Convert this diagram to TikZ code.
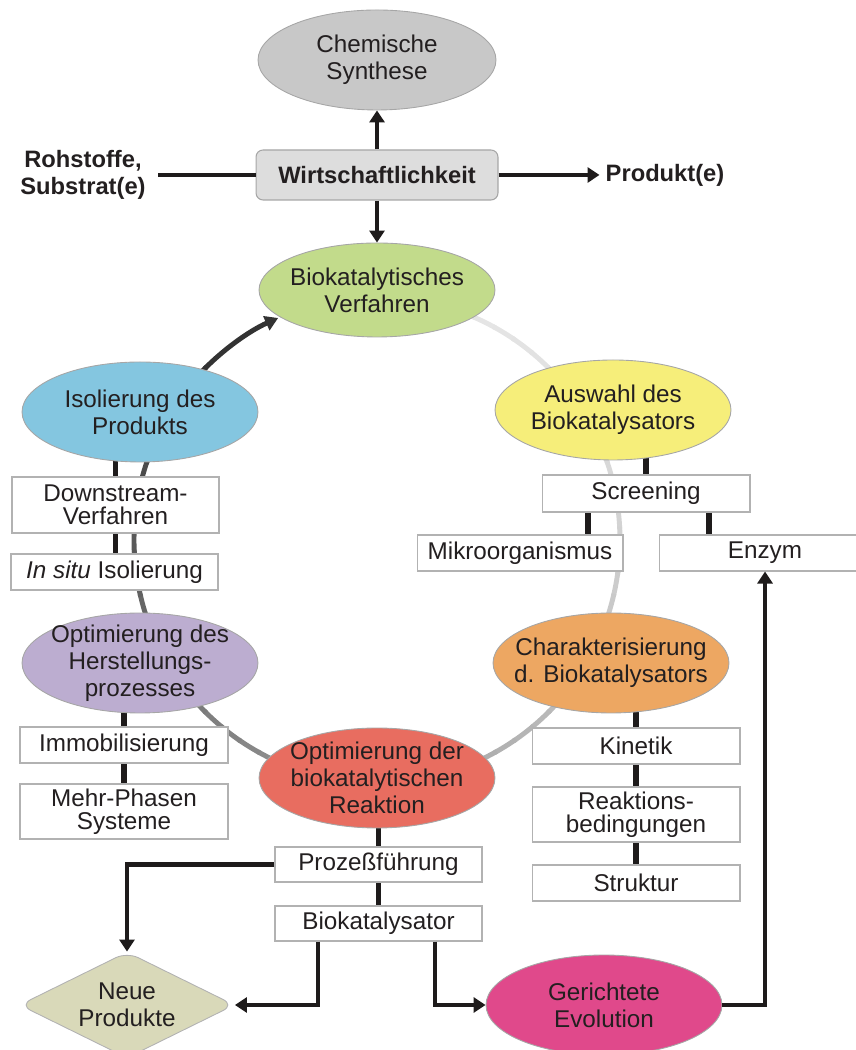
\documentclass[tikz,border=0pt]{standalone}
\usepackage{fontspec}
\setmainfont{Liberation Sans}
\usetikzlibrary{shapes.geometric, arrows.meta, backgrounds}

\definecolor{chemGray}{HTML}{C8C8C8}
\definecolor{wirtGray}{HTML}{DDDDDD}
\definecolor{bioGreen}{HTML}{C2DB8B}
\definecolor{isoBlue}{HTML}{84C6E0}
\definecolor{ausYellow}{HTML}{F6EE7A}
\definecolor{charOrange}{HTML}{EDA762}
\definecolor{optPurple}{HTML}{BCADD0}
\definecolor{reakRed}{HTML}{E86D60}
\definecolor{evoPink}{HTML}{E0498B}
\definecolor{neuOlive}{HTML}{D9D9B9}
\definecolor{inkBlack}{HTML}{1E1B1B}
\definecolor{txtDark}{HTML}{231F20}

\begin{document}
\begin{tikzpicture}[x=0.02cm, y=0.02cm,
    font=\fontsize{13.8}{15.3}\selectfont, text=txtDark,
    bubble/.style={ellipse, draw=black!35, line width=0.5pt, minimum width=4.72cm,
        minimum height=2cm, align=center, inner xsep=-9pt, inner ysep=-5pt},
    box/.style={draw=black!30, fill=white, line width=0.6pt, minimum width=4.14cm,
        minimum height=0.72cm, align=center, inner sep=0pt,
        font=\fontsize{13.8}{13}\selectfont},
    boldtxt/.style={font=\fontsize{13.5}{15.3}\selectfont\bfseries, align=center},
    stub/.style={draw=inkBlack, line width=3.2pt},
    arr/.style={draw=inkBlack, line width=2.8pt, -{Triangle[length=0.24cm, width=0.3cm]}},
    ring/.style={line width=2.8pt}
  ]
    \useasboundingbox (0,0) rectangle (855,1050);

    % Economics
    \node[bubble, fill=chemGray, minimum width=4.76cm] (chem) at (377,990) {Chemische\\Synthese};
    \node[boldtxt, draw=black!35, fill=wirtGray, rounded corners=4pt, line width=0.6pt,
        minimum width=4.84cm, minimum height=1cm] (wirt) at (377,875) {Wirtschaftlichkeit};
    \node[boldtxt, inner xsep=7pt] (roh) at (83,875) {Rohstoffe,\\Substrat(e)};
    \node[boldtxt] (prod) at (665,875) {Produkt(e)};

    % Cycle
    \node[bubble, fill=bioGreen, minimum height=1.88cm] (bio) at (377,760) {Biokatalytisches\\Verfahren};
    \node[bubble, fill=ausYellow] (aus) at (613,640) {Auswahl des\\Biokatalysators};
    \node[bubble, fill=charOrange] (char) at (611,387) {Charakterisierung\\d. Biokatalysators};
    \node[bubble, fill=reakRed] (reak) at (377,272) {Optimierung der\\biokatalytischen\\Reaktion};
    \node[bubble, fill=optPurple] (opt) at (140,387) {Optimierung des\\Herstellungs-\\prozesses};
    \node[bubble, fill=isoBlue] (iso) at (140,638) {Isolierung des\\Produkts};

    % Selection
    \node[box, minimum width=4.16cm, minimum height=0.74cm] (scr) at (646,556.5) {Screening};
    \node[box, minimum width=4.12cm] (mikro) at (520,497) {Mikroorganismus};
    \node[box, minimum width=4.24cm] (enz) at (765,497) {Enzym};

    % Characterisation
    \node[box, minimum width=4.16cm] (kin) at (636,304) {Kinetik};
    \node[box, minimum width=4.16cm, minimum height=1.1cm] (rbed) at (636,235.5) {Reaktions-\\bedingungen};
    \node[box, minimum width=4.16cm] (str) at (636,167) {Struktur};

    % Reaction
    \node[box, minimum height=0.7cm] (proz) at (378.5,185.5) {Prozeßführung};
    \node[box, minimum height=0.7cm] (bkat) at (378.5,126.5) {Biokatalysator};
    \node[diamond, aspect=2, draw=black!30, fill=neuOlive, rounded corners=7pt, line width=0.5pt,
        minimum width=4.3cm, minimum height=2.12cm, inner sep=0pt, align=center] (neu) at (127,45) {Neue\\Produkte};
    \node[bubble, fill=evoPink] (gev) at (604,45) {Gerichtete\\Evolution};

    % Process
    \node[box, minimum width=4.16cm] (immo) at (124,305) {Immobilisierung};
    \node[box, minimum width=4.16cm, minimum height=1.1cm] (mehr) at (124,238.5) {Mehr-Phasen\\Systeme};

    % Isolation
    \node[box, minimum height=1.12cm] (down) at (115.5,545) {Downstream-\\Verfahren};
    \node[box] (insitu) at (114.5,478) {\textit{In situ} Isolierung};

    \begin{scope}[on background layer]
        % Ring, light to dark
        \coordinate (ctr) at (377,510);
        \foreach \i in {0,...,55}{
            \pgfmathsetmacro{\sa}{72-5.3*\i}
            \pgfmathsetmacro{\ea}{\sa-5.9}
            \pgfmathsetmacro{\gv}{10+0.1716*\i*sqrt(\i)}
            \draw[ring, draw=black!\gv] (ctr) ++(\sa:243) arc[start angle=\sa, end angle=\ea, radius=243];
        }
        \draw[ring, draw=black!80, -{Triangle[length=0.26cm, width=0.3cm]}]
            (ctr) ++(-224.8:243) arc[start angle=-224.8, end angle=-246, radius=243];

        % Stubs
        \draw[stub] (scr.north) -- (scr.north |- aus.center);
        \draw[stub] ([xshift=-1.16cm]scr.south) -- ([xshift=-1.16cm]scr.south |- mikro.north);
        \draw[stub] ([xshift=1.26cm]scr.south) -- ([xshift=1.26cm]scr.south |- enz.north);
        \draw[stub] (kin.north) -- (kin.north |- char.center);
        \draw[stub] (kin.south) -- (rbed.north);
        \draw[stub] (rbed.south) -- (str.north);
        \draw[stub] (proz.north) -- (proz.north |- reak.center);
        \draw[stub] (proz.south) -- (bkat.north);
        \draw[stub] (immo.north) -- (immo.north |- opt.center);
        \draw[stub] (immo.south) -- (mehr.north);
        \draw[stub] (down.north) -- (down.north |- iso.center);
        \draw[stub] (down.south) -- (down.south |- insitu.north);
    \end{scope}

    % Connections
    \draw[arr] (wirt) -- (chem);
    \draw[arr] (wirt) -- (bio);
    \draw[draw=inkBlack, line width=2.8pt] (roh.east) -- (wirt.west);
    \draw[arr] (wirt) -- (prod);
    \draw[arr] (proz.west) -| (neu.north);
    \draw[arr] ([xshift=-1.21cm]bkat.south) |- (neu.east);
    \draw[arr] ([xshift=1.13cm]bkat.south) |- (gev.west);
    \draw[arr] (gev.east) -| (enz.south);
\end{tikzpicture}
\end{document}
